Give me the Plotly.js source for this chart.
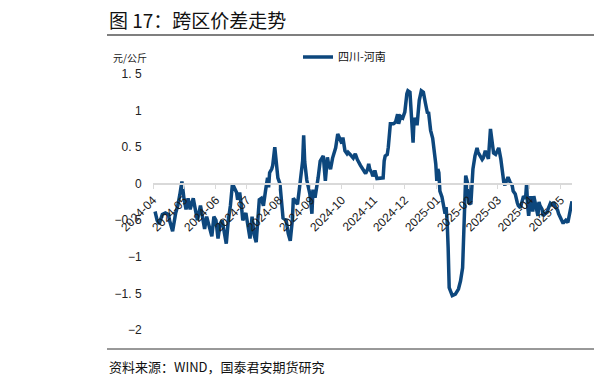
<!DOCTYPE html>
<html>
<head>
<meta charset="utf-8">
<script src="https://cdn.plot.ly/plotly-3.0.1.min.js"></script>
<style>
html,body{margin:0;padding:0;background:#fff;}
#chart{width:594px;height:385px;}
</style>
</head>
<body>
<div id="chart"></div>
<script>
// Series start date and day offsets
const startDate = '2024-04-01';
const dayOffsets = [2,4,6,9,12,15,16,19,22,24,26,28,30,32,34,36,39,41,43,46,48,50,52,54,57,59,61,63,65,67,69,71,73,75,77,79,81,82,84,86,87,90,92,94,96,98,100,
102,103,105,107,109,111,112,113,115,116,118,120,121,123,125,126,129,131,133,135,136,138,140,142,143,145,146,147,149,150,152,154,155,157,159,160,162,164,165,167,169,170,172,174,177,179,181,183,184,186,188,189,191,194,196,198,201,
203,204,206,208,209,210,212,213,215,217,220,223,224,225,227,228,230,233,235,237,238,240,242,243,244,246,247,249,251,252,253,255,256,258,260,262,264,266,267,269,271,272,274,275,276,277,278,280,281,283,284,285,286,287,290,293,296,298,300,301,302,303,305,306,308,309,310,312,314,315,317,319,320,322,324,325,327,328,330,332,334,335,337,339,340,341,343,344,346,348,349,351,353,354,356,358,359,361,362,363,364,366,368,369,371,373,374,375,377,378,380,382,383,385,387,388,390,392,393,395,397,398,400,402,403,405,406];
const spread = [-0.38,-0.5,-0.55,-0.42,-0.4,-0.42,-0.5,-0.65,-0.4,-0.3,-0.15,0.03,-0.2,-0.35,-0.2,-0.35,-0.2,-0.35,-0.5,-0.3,-0.45,-0.62,-0.45,-0.55,-0.72,-0.45,-0.5,-0.75,-0.55,-0.5,-0.65,-0.82,-0.5,-0.3,0.0,-0.05,-0.12,-0.22,-0.12,-0.35,-0.5,-0.4,-0.6,-0.75,-0.45,-0.7,-0.8,
-0.45,-0.22,-0.2,-0.3,-0.1,0.08,-0.05,0.15,0.2,0.25,0.5,0.27,0.08,0.0,-0.3,-0.47,-0.5,-0.68,-0.78,-0.5,-0.2,-0.25,-0.28,-0.05,0.08,0.31,0.66,0.3,0.05,0.0,-0.14,-0.41,-0.08,-0.19,-0.05,0.08,0.31,0.35,0.38,0.04,0.36,0.28,0.2,0.35,0.49,0.68,0.6,0.55,0.63,0.45,0.41,0.43,0.4,0.35,0.41,0.33,0.25,
0.2,0.18,0.14,0.2,0.27,0.2,0.15,0.1,0.18,0.07,0.07,0.08,0.31,0.38,0.4,0.5,0.82,0.82,0.84,0.95,0.82,0.92,0.9,0.96,0.98,1.23,1.27,1.25,0.86,0.56,0.9,0.82,0.82,1.14,1.27,1.25,1.1,0.96,0.98,0.73,0.62,0.5,0.27,0.04,0.2,0.15,-0.1,-0.18,-0.27,-0.41,-0.32,-0.51,-0.88,-1.42,-1.53,-1.51,-1.44,-1.33,-1.15,-0.6,-0.1,0.11,0.0,-0.26,-0.28,0.0,0.2,0.38,0.49,0.43,0.38,0.33,0.35,0.45,0.38,0.34,0.75,0.66,0.42,0.4,0.48,0.49,0.34,0.11,0.01,-0.02,0.07,0.09,0.02,-0.02,-0.1,-0.14,-0.26,-0.3,-0.33,-0.2,-0.17,-0.2,0.0,-0.3,-0.44,-0.17,-0.38,-0.17,-0.34,-0.44,-0.25,-0.3,-0.35,-0.44,-0.41,-0.39,-0.34,-0.27,-0.3,-0.25,-0.32,-0.36,-0.41,-0.48,-0.53,-0.53,-0.5,-0.53,-0.45,-0.35,-0.24];
const monthTicks = ['2024-04-01','2024-05-01','2024-06-01','2024-07-01','2024-08-01','2024-09-01','2024-10-01','2024-11-01','2024-12-01','2025-01-01','2025-02-01','2025-03-01','2025-04-01','2025-05-01'];
const monthLabels = ['2024-04','2024-05','2024-06','2024-07','2024-08','2024-09','2024-10','2024-11','2024-12','2025-01','2025-02','2025-03','2025-04','2025-05'];
const yTicks = [-2,-1.5,-1,-0.5,0,0.5,1,1.5];
const yLabels = ['−2','−1. 5','−1','−0. 5','0','0. 5','1','1. 5'];
const seriesName = '四川-河南';

function addDays(s, n){
  const d = new Date(s + 'T00:00:00Z');
  d.setUTCDate(d.getUTCDate() + n);
  return d.toISOString().slice(0,10);
}
const dates = dayOffsets.map(o => addDays(startDate, o));

const L = 153, R = 572, T = 74, B = 330;
const px = x => (x - L) / (R - L);
const py = y => (B - y) / (B - T);

const trace = {
  x: dates, y: spread, type: 'scatter', mode: 'lines', name: seriesName,
  line: {color: '#0d477d', width: 3.5}
};

const layout = {
  width: 594, height: 385,
  margin: {l: L, r: 594 - R, t: T, b: 385 - B},
  paper_bgcolor: '#fff', plot_bgcolor: '#fff',
  font: {family: 'Liberation Sans, Arial, sans-serif', color: '#222'},
  showlegend: true,
  legend: {x: px(298), y: py(57), xanchor: 'left', yanchor: 'middle', orientation: 'h',
    font: {family: 'Noto Sans CJK SC', size: 11, color: '#111'}, bgcolor: 'rgba(0,0,0,0)'},
  xaxis: {
    type: 'date', range: ['2024-04-01', '2025-05-12'],
    anchor: 'free', position: py(183),
    tickmode: 'array', tickvals: monthTicks, ticktext: monthLabels,
    tickangle: -45, tickfont: {size: 12, color: '#1a1a1a'},
    showline: true, linecolor: '#d9d9d9', linewidth: 1.5,
    ticks: 'outside', ticklen: 4, tickcolor: '#d9d9d9', tickwidth: 1,
    showgrid: false, zeroline: false
  },
  yaxis: {
    range: [-2, 1.5], tickmode: 'array', tickvals: yTicks, ticktext: yLabels,
    showgrid: false, zeroline: false, showline: false,
    ticks: 'outside', ticklen: 8, tickcolor: 'rgba(0,0,0,0)',
    tickfont: {size: 12, color: '#222'}
  },
  shapes: [
    {type: 'line', xref: 'paper', yref: 'paper', x0: px(107), x1: px(594), y0: py(35), y1: py(35), line: {color: '#7f7f7f', width: 2}},
    {type: 'line', xref: 'paper', yref: 'paper', x0: px(107), x1: px(594), y0: py(349), y1: py(349), line: {color: '#333', width: 1}}
  ],
  annotations: [
    {text: '图 17：跨区价差走势', xref: 'paper', yref: 'paper', x: px(107), y: py(19), xanchor: 'left', yanchor: 'middle', showarrow: false,
     font: {family: 'Noto Sans CJK SC', size: 19, color: '#111'}},
    {text: '元/公斤', xref: 'paper', yref: 'paper', x: px(111), y: py(57), xanchor: 'left', yanchor: 'middle', showarrow: false,
     font: {family: 'Noto Sans CJK SC', size: 10, color: '#222'}},
    {text: '资料来源：WIND，国泰君安期货研究', xref: 'paper', yref: 'paper', x: px(107), y: py(366), xanchor: 'left', yanchor: 'middle', showarrow: false,
     font: {family: 'Noto Sans CJK SC', size: 13, color: '#111'}}
  ]
};

Plotly.newPlot('chart', [trace], layout, {displayModeBar: false, staticPlot: true});
</script>
</body>
</html>
